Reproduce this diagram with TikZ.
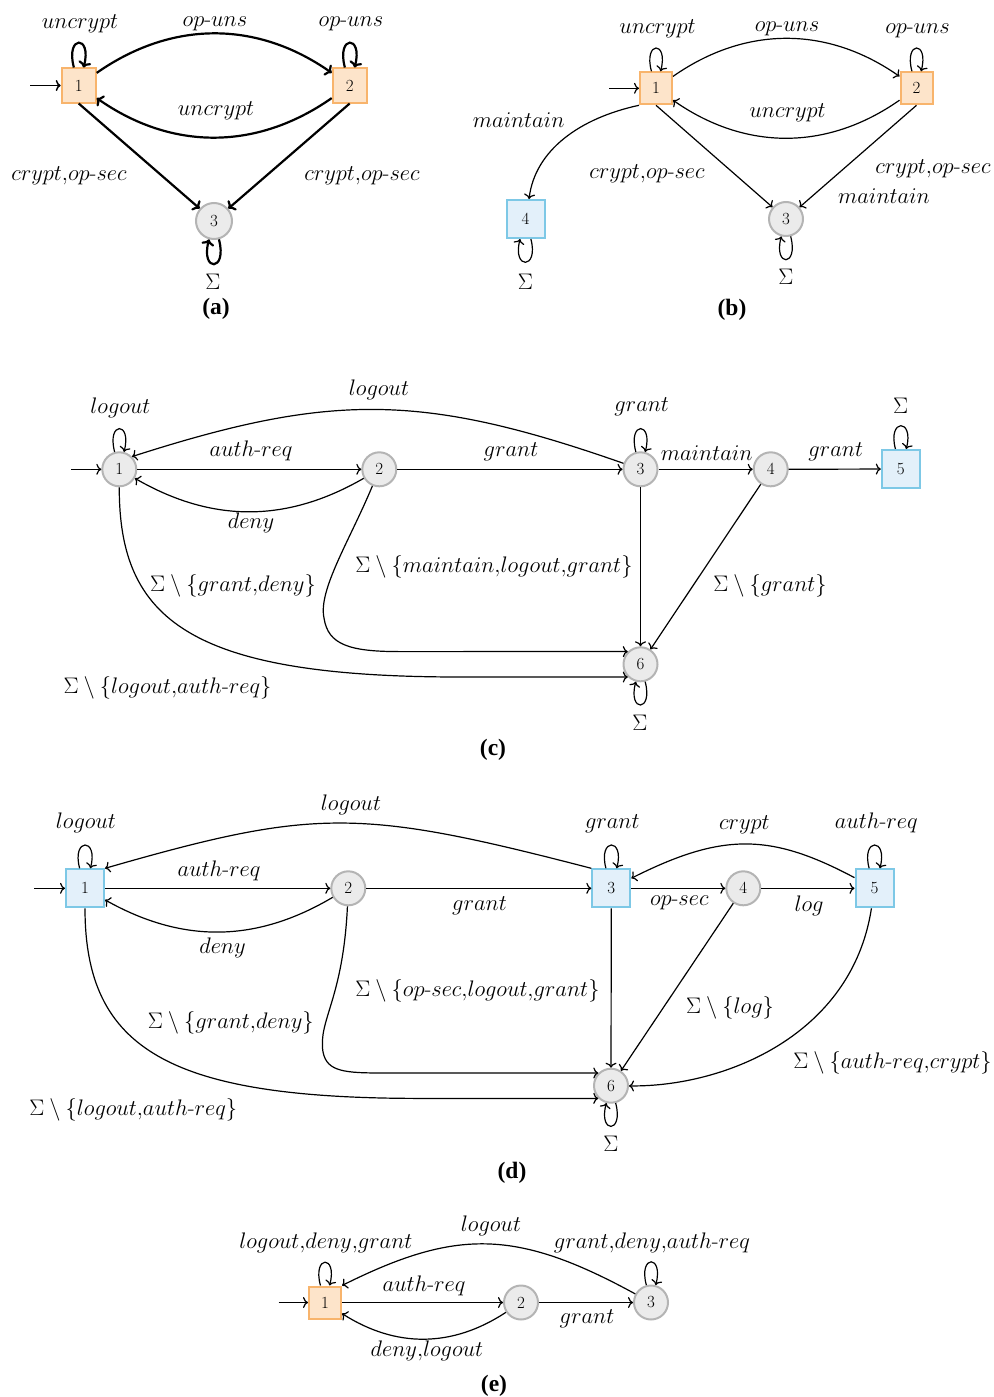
\RequirePackage{fix-cm}
\documentclass[tikz,border=0pt]{standalone}
\usepackage{fontspec}
\newfontfamily\capfont{Liberation Serif}
\usetikzlibrary{arrows.meta}
\definecolor{ofill}{RGB}{253,228,202}
\definecolor{odraw}{RGB}{248,180,108}
\definecolor{bfill}{RGB}{227,240,250}
\definecolor{bdraw}{RGB}{125,200,230}
\definecolor{gfill}{RGB}{235,235,235}
\definecolor{gdraw}{RGB}{180,180,180}
\newcommand{\hy}{\mbox{-}}
\newcommand{\cm}{{,}}
\begin{document}
\begin{tikzpicture}[x=1pt,y=1pt,
  lab/.style={inner sep=0pt, anchor=base, font=\fontsize{22.5}{27}\selectfont},
  figcap/.style={inner sep=0pt, anchor=base, font=\fontsize{23.5}{28}\selectfont\capfont\bfseries},
  stc/.style={circle, draw=gdraw, fill=gfill, line width=2pt, minimum size=34pt, inner sep=0pt, font=\fontsize{17}{20}\selectfont},
  sto/.style={rectangle, draw=odraw, fill=ofill, line width=2pt, minimum size=32pt, inner sep=0pt, font=\fontsize{17}{20}\selectfont},
  stb/.style={rectangle, draw=bdraw, fill=bfill, line width=2pt, minimum size=38pt, inner sep=0pt, font=\fontsize{17}{20}\selectfont},
  tr/.style={draw=black, line width=1.2pt, -{To[length=5pt,width=11pt]}},
  trA/.style={draw=black, line width=2.2pt, -{To[length=6pt,width=13pt]}},
  lpa/.style={loop above, min distance=32pt},
  lpb/.style={loop below, min distance=32pt},
]
\useasboundingbox (0,0) rectangle (993,-1397);

% ---------------- (a)
\node[sto, minimum size=34pt] (a1) at (78.7,-85.5) {1};
\node[sto, minimum size=34pt] (a2) at (349.7,-85.5) {2};
\node[stc, minimum size=36pt] (a3) at (214,-221) {3};
\coordinate (a0) at (30,-85.5);
\draw[tr, line width=1.5pt] (a0) -- (a1);
\draw[trA] (a1) to[lpa, min distance=34pt] (a1);
\draw[trA] (a2) to[lpa, min distance=34pt] (a2);
\draw[trA] (a1) to[bend left=35] (a2);
\draw[trA] (a2) to[bend left=35] (a1);
\draw[trA] (a1.south) -- (a3);
\draw[trA] (a2.south) -- (a3);
\draw[trA] (a3) to[lpb, min distance=34pt] (a3);
\node[lab] (la1) at (80,-29) {$uncrypt$};
\node[lab] (la2) at (215,-27) {$op\hy uns$};
\node[lab] (la3) at (351,-27) {$op\hy uns$};
\node[lab] (la4) at (216,-115) {$uncrypt$};
\node[lab] (la5) at (69,-180) {$crypt\cm op\hy sec$};
\node[lab] (la6) at (362,-180) {$crypt\cm op\hy sec$};
\node[lab] (la7) at (213,-289) {$\Sigma$};
\node[figcap] (capa) at (216,-314) {(a)};

% ---------------- (b)
\node[sto] (b1) at (656,-88.3) {1};
\node[sto] (b2) at (916.5,-88.3) {2};
\node[stc] (b3) at (786,-219) {3};
\node[stb] (b4) at (525.5,-219) {4};
\coordinate (b0) at (609,-88.3);
\draw[tr] (b0) -- (b1);
\draw[tr] (b1) to[lpa] (b1);
\draw[tr] (b2) to[lpa] (b2);
\draw[tr] (b1) to[bend left=35] (b2);
\draw[tr] (b2) to[bend left=35] (b1);
\draw[tr] (b1.south) -- (b3);
\draw[tr] (b2.south) -- (b3);
\draw[tr] (b1.south west) .. controls (580,-118) and (535,-150) .. (b4.80);
\draw[tr] (b3) to[lpb] (b3);
\draw[tr] (b4) to[lpb] (b4);
\node[lab] (lb1) at (657.6,-33.3) {$uncrypt$};
\node[lab] (lb2) at (787,-31.7) {$op\hy uns$};
\node[lab] (lb3) at (917.5,-33.3) {$op\hy uns$};
\node[lab] (lb4) at (787.5,-117.3) {$uncrypt$};
\node[lab] (lb5) at (518.6,-127.3) {$maintain$};
\node[lab] (lb6) at (647,-178.3) {$crypt\cm op\hy sec$};
\node[lab] (lb7) at (933,-173.3) {$crypt\cm op\hy sec$};
\node[lab] (lb8) at (884,-203.3) {$maintain$};
\node[lab] (lb9) at (525.5,-289.3) {$\Sigma$};
\node[lab] (lb10) at (786,-284.3) {$\Sigma$};
\node[figcap] (capb) at (732,-315) {(b)};

% ---------------- (c)
\node[stc] (c1) at (119.3,-469.3) {1};
\node[stc] (c2) at (379.3,-469.3) {2};
\node[stc] (c3) at (640.5,-469.3) {3};
\node[stc] (c4) at (770.7,-469.3) {4};
\node[stb] (c5) at (900.8,-469) {5};
\node[stc] (c6) at (640.5,-664.3) {6};
\coordinate (c0) at (71,-469.3);
\draw[tr] (c0) -- (c1);
\draw[tr] (c1) to[lpa] (c1);
\draw[tr] (c3) .. controls (422,-392.7) and (331,-392.7) .. (c1.45);
\draw[tr] (c1) -- (c2);
\draw[tr] (c2) to[bend left=30] (c1);
\draw[tr] (c2) -- (c3);
\draw[tr] (c3) to[lpa] (c3);
\draw[tr] (c3) -- (c4);
\draw[tr] (c4) -- (c5);
\draw[tr] (c5) to[lpa] (c5);
\draw[tr] (c3) -- (c6);
\draw[tr] (c4) -- (c6);
\draw[tr] (c2) .. controls (350,-540) and (318,-590) .. (324,-618) .. controls (328,-645) and (350,-651.6) .. (400,-651.6) -- (c6.135);
\draw[tr] (c1) .. controls (119,-620) and (190,-677) .. (460,-677) -- (c6.225);
\draw[tr] (c6) to[lpb] (c6);
\node[lab] (lc1) at (120.5,-413.3) {$logout$};
\node[lab] (lc2) at (379,-395) {$logout$};
\node[lab] (lc3) at (251,-456) {$auth\hy req$};
\node[lab] (lc4) at (251,-528.3) {$deny$};
\node[lab] (lc5) at (511,-456) {$grant$};
\node[lab] (lc6) at (641.7,-411.7) {$grant$};
\node[lab] (lc7) at (706.7,-460) {$maintain$};
\node[lab] (lc8) at (835.7,-456) {$grant$};
\node[lab] (lc9) at (900.7,-413.3) {$\Sigma$};
\node[lab] (lc10) at (233,-591.7) {$\Sigma\setminus\{grant\cm deny\}$};
\node[lab] (lc11) at (494,-572.7) {$\Sigma\setminus\{maintain\cm logout\cm grant\}$};
\node[lab] (lc12) at (770,-591.7) {$\Sigma\setminus\{grant\}$};
\node[lab] (lc13) at (167.5,-693.3) {$\Sigma\setminus\{logout\cm auth\hy req\}$};
\node[lab] (lc14) at (640,-730) {$\Sigma$};
\node[figcap] (capc) at (493,-755) {(c)};

% ---------------- (d)
\node[stb] (d1) at (85,-888.3) {1};
\node[stc] (d2) at (348.3,-888.3) {2};
\node[stb] (d3) at (611.3,-888.3) {3};
\node[stc] (d4) at (743.3,-888.3) {4};
\node[stb] (d5) at (874.5,-888.3) {5};
\node[stc] (d6) at (611,-1085.7) {6};
\coordinate (d0) at (34.3,-888.3);
\draw[tr] (d0) -- (d1);
\draw[tr] (d1) to[lpa] (d1);
\draw[tr] (d3.north west) .. controls (359,-808) and (315,-808) .. (d1.north east);
\draw[tr] (d1) -- (d2);
\draw[tr] (d2) to[bend left=30] (d1);
\draw[tr] (d2) -- (d3);
\draw[tr] (d3) to[lpa] (d3);
\draw[tr] (d3) -- (d4);
\draw[tr] (d4) -- (d5);
\draw[tr] (d5) .. controls (770,-832.7) and (722,-832.7) .. (d3);
\draw[tr] (d5) to[lpa] (d5);
\draw[tr] (d3) -- (d6);
\draw[tr] (d4) -- (d6);
\draw[tr] (d5) .. controls (852,-1035) and (725,-1087) .. (d6);
\draw[tr] (d2) .. controls (343,-1000) and (318,-1020) .. (323,-1052) .. controls (327,-1072) and (345,-1073) .. (385,-1073) -- (d6.135);
\draw[tr] (d1) .. controls (85,-1050) and (170,-1098.4) .. (420,-1098.4) -- (d6.225);
\draw[tr] (d6) to[lpb] (d6);
\node[lab] (ld1) at (86,-828.3) {$logout$};
\node[lab] (ld2) at (351,-810.7) {$logout$};
\node[lab] (ld3) at (219,-876) {$auth\hy req$};
\node[lab] (ld4) at (222.5,-953.3) {$deny$};
\node[lab] (ld5) at (479.5,-910) {$grant$};
\node[lab] (ld6) at (612.3,-828.3) {$grant$};
\node[lab] (ld7) at (744.3,-829.3) {$crypt$};
\node[lab] (ld8) at (876.3,-828.3) {$auth\hy req$};
\node[lab] (ld9) at (679.3,-905) {$op\hy sec$};
\node[lab] (ld10) at (809,-911.7) {$log$};
\node[lab] (ld11) at (477.5,-996.7) {$\Sigma\setminus\{op\hy sec\cm logout\cm grant\}$};
\node[lab] (ld12) at (230.8,-1028.3) {$\Sigma\setminus\{grant\cm deny\}$};
\node[lab] (ld13) at (730,-1013.3) {$\Sigma\setminus\{log\}$};
\node[lab] (ld14) at (892.5,-1068.3) {$\Sigma\setminus\{auth\hy req\cm crypt\}$};
\node[lab] (ld15) at (133.3,-1115) {$\Sigma\setminus\{logout\cm auth\hy req\}$};
\node[lab] (ld16) at (611,-1151.7) {$\Sigma$};
\node[figcap] (capd) at (512,-1178) {(d)};

% ---------------- (e)
\node[sto] (e1) at (325,-1302.5) {1};
\node[stc] (e2) at (521,-1302.5) {2};
\node[stc] (e3) at (651,-1302.5) {3};
\coordinate (e0) at (278.6,-1302.5);
\draw[tr] (e0) -- (e1);
\draw[tr] (e1) to[lpa] (e1);
\draw[tr] (e3) .. controls (516,-1228.7) and (456,-1228.7) .. (e1.north east);
\draw[tr] (e1) -- (e2);
\draw[tr] (e2) to[bend left=33] (e1);
\draw[tr] (e2) -- (e3);
\draw[tr] (e3) to[lpa] (e3);
\node[lab] (le1) at (326,-1248.3) {$logout\cm deny\cm grant$};
\node[lab] (le2) at (491,-1231.7) {$logout$};
\node[lab] (le3) at (652,-1248.3) {$grant\cm deny\cm auth\hy req$};
\node[lab] (le4) at (424,-1291.7) {$auth\hy req$};
\node[lab] (le5) at (587,-1323.3) {$grant$};
\node[lab] (le6) at (427,-1356.7) {$deny\cm logout$};
\node[figcap] (cape) at (494,-1391.7) {(e)};
\end{tikzpicture}
\end{document}
